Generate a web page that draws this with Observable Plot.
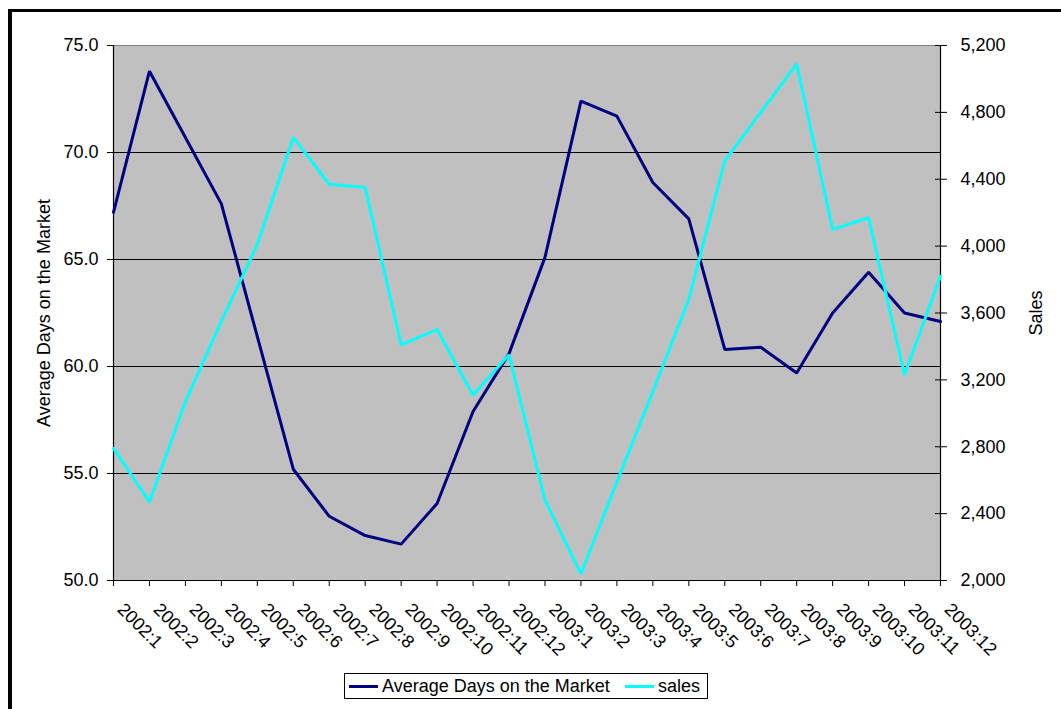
<!DOCTYPE html>
<html>
<head>
<meta charset="utf-8">
<script src="https://cdn.jsdelivr.net/npm/d3@7"></script>
<script src="https://cdn.jsdelivr.net/npm/@observablehq/plot@0.6"></script>
<style>
  html, body { margin: 0; padding: 0; background: #fff; }
  #wrap { position: relative; width: 1061px; height: 709px; overflow: hidden; font-family: Arial, "Liberation Sans", sans-serif; }
  #border { position: absolute; left: 8px; top: 9px; width: 1200px; height: 900px; border-left: 4px solid #000; border-top: 3px solid #000; }
  #chart { position: absolute; left: 0; top: 0; }
  #legend { position: absolute; left: 344px; top: 673px; width: 362px; height: 24px; border: 1px solid #000; background: #fff;
            font-size: 18px; color: #000; white-space: nowrap; }
  .sw { position: absolute; top: 11px; width: 29px; height: 3px; }
  .lt { position: absolute; top: 2px; line-height: 20px; }
</style>
</head>
<body>
<div id="wrap">
  <div id="border"></div>
  <div id="chart"></div>
  <div id="legend"></div>
</div>
<script>
const months = ["2002:1","2002:2","2002:3","2002:4","2002:5","2002:6","2002:7","2002:8","2002:9","2002:10","2002:11","2002:12",
                "2003:1","2003:2","2003:3","2003:4","2003:5","2003:6","2003:7","2003:8","2003:9","2003:10","2003:11","2003:12"];
const avgDays = [67.2, 73.8, 70.7, 67.6, 61.4, 55.2, 53.0, 52.1, 51.7, 53.6, 57.9, 60.6,
                 65.1, 72.4, 71.7, 68.6, 66.9, 60.8, 60.9, 59.7, 62.5, 64.4, 62.5, 62.1];
const sales = [2790, 2470, 3070, 3550, 4010, 4650, 4370, 4350, 3410, 3500, 3110, 3350,
               2480, 2040, 2590, 3130, 3680, 4510, 4800, 5090, 4100, 4170, 3230, 3820];
const leftTicks = [50, 55, 60, 65, 70, 75];
const gridTicks = [55, 60, 65, 70];
const rightTicks = [2000, 2400, 2800, 3200, 3600, 4000, 4400, 4800, 5200];
const seriesNames = ["Average Days on the Market", "sales"];
const leftTitle = "Average Days on the Market";
const rightTitle = "Sales";

// Map the secondary (sales) axis onto the primary (days) axis domain
const leftDomain = [50, 75];
const rightDomain = [2000, 5200];
const toLeft = s => leftDomain[0] + (s - rightDomain[0]) * (leftDomain[1] - leftDomain[0]) / (rightDomain[1] - rightDomain[0]);
const toRight = d => rightDomain[0] + (d - leftDomain[0]) * (rightDomain[1] - rightDomain[0]) / (leftDomain[1] - leftDomain[0]);

const daysData = months.map((m, i) => ({month: m, v: avgDays[i]}));
const salesData = months.map((m, i) => ({month: m, v: toLeft(sales[i])}));

const navy = "#000080", cyan = "#00FFFF";
const FS = 18;

const chart = Plot.plot({
  width: 1061,
  height: 660,
  marginLeft: 113,
  marginRight: 121,
  marginTop: 45,
  marginBottom: 80,
  style: {fontFamily: 'Arial, "Liberation Sans", sans-serif', fontSize: FS + "px", color: "#000", background: "transparent", overflow: "visible"},
  x: {type: "point", domain: months, padding: 0, round: false},
  y: {domain: leftDomain},
  marks: [
    Plot.frame({fill: "#C0C0C0", stroke: "#808080"}),
    Plot.ruleY(gridTicks, {stroke: "#000", strokeWidth: 1}),
    Plot.ruleY([leftDomain[0]], {stroke: "#000", strokeWidth: 1.2}),
    Plot.ruleX([months[0], months[months.length - 1]], {stroke: "#000", strokeWidth: 1.2}),
    Plot.axisY({ticks: leftTicks, tickFormat: d => d.toFixed(1), tickSize: 6, tickPadding: 9, label: null, fontSize: FS}),
    Plot.axisY({anchor: "right", ticks: rightTicks.map(toLeft), tickFormat: d => d3.format(",")(Math.round(toRight(d))),
                tickSize: 6, tickPadding: 14, label: null, fontSize: FS}),
    Plot.axisY({anchor: "right", ticks: rightTicks.map(toLeft), tickFormat: () => "", tickSize: 6, dx: -6, label: null}),
    Plot.axisX({tickSize: 6, tickFormat: () => "", label: null}),
    Plot.text(months, {x: d => d, frameAnchor: "bottom", dx: 3, dy: 30, rotate: 45, textAnchor: "start", lineAnchor: "bottom", fontSize: FS, fill: "#000"}),
    Plot.text([leftTitle], {frameAnchor: "left", dx: -69, rotate: -90, textAnchor: "middle", fontSize: FS, fill: "#000"}),
    Plot.text([rightTitle], {frameAnchor: "right", dx: 96, rotate: -90, textAnchor: "middle", fontSize: FS, fill: "#000"}),
    Plot.line(daysData, {x: "month", y: "v", stroke: navy, strokeWidth: 3, strokeLinejoin: "miter"}),
    Plot.line(salesData, {x: "month", y: "v", stroke: cyan, strokeWidth: 3, strokeLinejoin: "miter"})
  ]
});
document.getElementById("chart").appendChild(chart);

const legend = document.getElementById("legend");
const swLeft = [4, 280], txLeft = [37, 313];
[navy, cyan].forEach((c, i) => {
  const sw = document.createElement("span");
  sw.className = "sw";
  sw.style.background = c;
  sw.style.left = swLeft[i] + "px";
  legend.appendChild(sw);
  const t = document.createElement("span");
  t.className = "lt";
  t.style.left = txLeft[i] + "px";
  t.textContent = seriesNames[i];
  legend.appendChild(t);
});
</script>
</body>
</html>
